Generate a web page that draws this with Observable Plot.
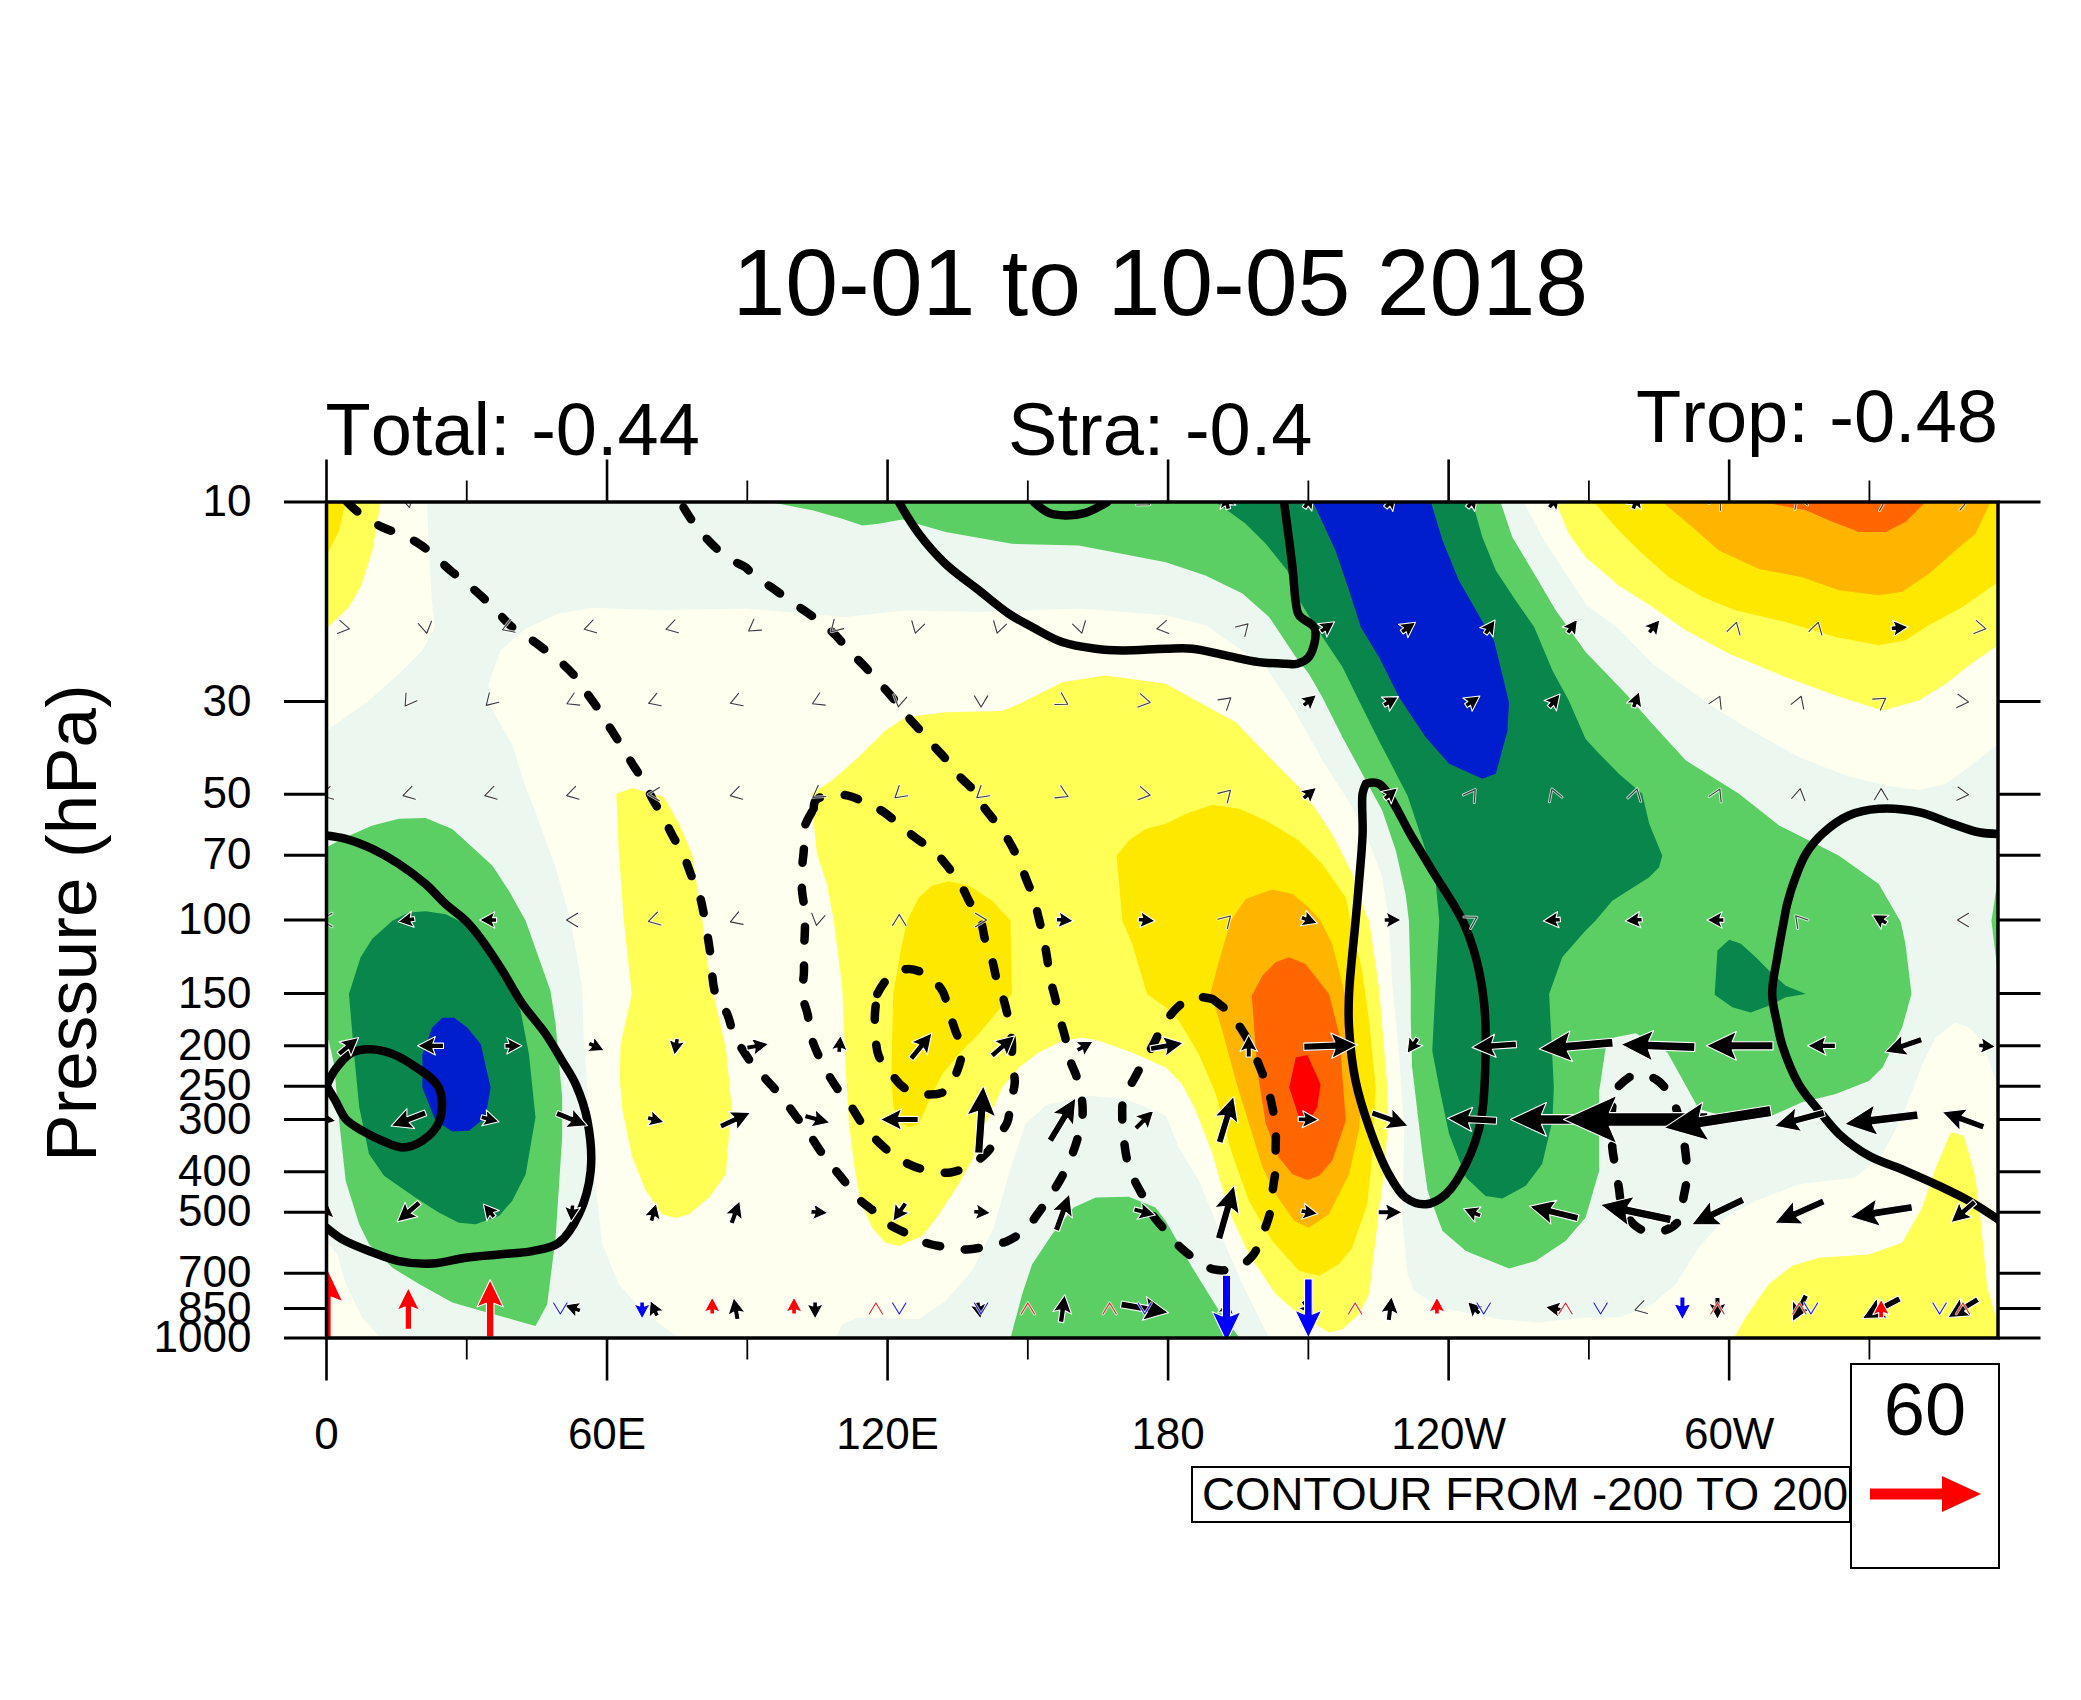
<!DOCTYPE html>
<html><head><meta charset="utf-8">
<script src="https://cdn.jsdelivr.net/npm/d3@7"></script>
<script src="https://cdn.jsdelivr.net/npm/@observablehq/plot@0.6"></script>
<style>
html,body{margin:0;padding:0;background:#fff}
#wrap{position:relative;width:2081px;height:1700px;font-family:"Liberation Sans",Arial,sans-serif;color:#000;font-kerning:none}
.box{position:absolute;box-sizing:border-box;border:2px solid #000;white-space:nowrap}
</style></head><body><div id="wrap"></div>
<script>
// Labels
const titleText = "10-01 to 10-05 2018";
const leftLabel = "Total: -0.44", midLabel = "Stra: -0.4", rightLabel = "Trop: -0.48";
const yLabel = "Pressure (hPa)";
const pressureTicks = [10,30,50,70,100,150,200,250,300,400,500,700,850,1000];
const lonMajor = [0,60,120,180,240,300];
const lonMinor = [30,90,150,210,270,330];
const lonNames = {0:"0",60:"60E",120:"120E",180:"180",240:"120W",300:"60W"};
const lonEnd = 357.5;

// Contour bands: [longitude, log10 hPa]
const paleGreenMain=[[21.5,1],[21.9,1.116],[22.5,1.235],[23.2,1.299],[20.5,1.355],[15.5,1.411],[9.1,1.475],[0,1.547],[0,2.77],[2.3,2.8],[4.1,2.871],[7.6,2.951],[11.6,3],[75.4,3],[67.5,2.935],[62.5,2.871],[59,2.776],[57.6,2.64],[56.1,2.448],[55,2.281],[54.7,2.161],[52.2,2.002],[49,1.874],[45.4,1.762],[42.6,1.682],[39.7,1.579],[34.7,1.483],[34.7,1.435],[37.2,1.355],[42.6,1.303],[49.7,1.267],[56.8,1.253],[71.1,1.259],[89.6,1.255],[101.7,1.267],[111,1.275],[123.8,1.259],[139.5,1.263],[160.9,1.255],[179.5,1.271],[188,1.295],[193.7,1.339],[200.9,1.395],[206.6,1.491],[213,1.618],[219.4,1.73],[222.3,1.794],[225.8,1.898],[227.2,2.002],[228,2.161],[229.4,2.321],[230.5,2.512],[230.1,2.72],[231.2,2.847],[232.6,2.887],[238,2.927],[250.8,2.955],[259.3,2.963],[269.3,2.951],[276.4,2.951],[283.6,2.919],[288.6,2.871],[293.5,2.784],[299.2,2.712],[305.7,2.672],[314.9,2.632],[327,2.616],[332.8,2.56],[337,2.472],[341.3,2.345],[344.2,2.281],[348.4,2.245],[351.3,2.257],[354.1,2.289],[357.5,2.401],[357.5,1.579],[351.3,1.634],[346.3,1.674],[340.6,1.689],[333.5,1.678],[324.9,1.654],[314.9,1.61],[304.9,1.547],[297.8,1.499],[290.7,1.443],[283.6,1.387],[276.4,1.303],[269.5,1.247],[260,1.084],[256.1,1]];
const paleGreenDome=[[108.9,3],[110.3,2.967],[113.8,2.951],[126.7,2.955],[132.4,2.911],[138.1,2.839],[142.7,2.736],[145.9,2.608],[149.5,2.488],[153.8,2.444],[162.3,2.42],[170.9,2.428],[179.5,2.468],[182.3,2.544],[186.6,2.624],[191.6,2.76],[195.9,2.871],[201.6,3]];
const greenLeft=[[0,1.826],[4.1,1.802],[9.8,1.774],[15.5,1.758],[21.2,1.756],[26.9,1.782],[31.2,1.826],[35.5,1.87],[39,1.93],[42.6,2.002],[47.9,2.169],[49,2.249],[50.4,2.424],[50.4,2.52],[49,2.76],[47.2,2.919],[44.7,2.971],[31.9,2.931],[26.9,2.915],[19.8,2.871],[14.1,2.832],[9.1,2.776],[7,2.728],[4.1,2.624],[2.7,2.48],[1.6,2.345],[0.5,2.289],[0,2.281]];
const greenDome=[[146.3,3],[148.8,2.895],[150.9,2.824],[155.2,2.752],[159.8,2.688],[164.5,2.664],[171.6,2.662],[177.3,2.688],[179.5,2.72],[185.2,2.832],[190.9,2.935],[195.3,3]];
const greenMain=[[94.9,1],[103.9,1.02],[110.3,1.04],[114.6,1.056],[118.1,1.052],[123.1,1.042],[132.4,1.072],[146.6,1.1],[160.9,1.104],[179.5,1.144],[188,1.176],[195.9,1.219],[201.6,1.275],[207.3,1.371],[210.1,1.411],[213,1.467],[217.3,1.563],[222.3,1.666],[225.8,1.738],[228.7,1.834],[230.8,1.938],[231.5,2.002],[231.9,2.161],[231.9,2.241],[232.2,2.353],[234.4,2.56],[235.5,2.648],[238.7,2.744],[243.7,2.792],[252.9,2.834],[258.6,2.816],[265,2.768],[269.3,2.712],[272.2,2.6],[272.2,2.409],[273.6,2.305],[275.4,2.281],[280,2.271],[286.8,2.317],[293.5,2.452],[297.8,2.466],[309.2,2.468],[315.6,2.436],[322.8,2.416],[329.9,2.385],[332.8,2.353],[337,2.257],[339,2.177],[337.7,2.057],[336.7,2.005],[332,1.914],[323.5,1.846],[317.1,1.81],[310.7,1.774],[302.1,1.698],[290.7,1.618],[283.6,1.531],[277.9,1.459],[269.3,1.359],[262.9,1.259],[257.9,1.164],[253.6,1.084],[251.1,1]];
const greenSliver=[[357.5,1.898],[356.1,2.002],[356.6,2.049],[357.5,2.129]];
const darkLeft=[[4.8,2.177],[7.3,2.089],[9.8,2.045],[14.1,2.002],[17.6,1.982],[21.2,1.979],[25.5,1.986],[29.8,2.01],[34,2.057],[38.3,2.137],[41.5,2.217],[43.3,2.321],[44.7,2.472],[42.6,2.608],[39.7,2.672],[36.9,2.708],[31.9,2.728],[28.3,2.724],[24,2.7],[19,2.664],[12.3,2.612],[9.1,2.56],[7,2.448],[5.9,2.321]];
const darkMain=[[190.2,1],[196.6,1.052],[200.9,1.1],[205.5,1.164],[207.6,1.227],[211.6,1.299],[217.3,1.395],[220.8,1.475],[225.1,1.571],[231.2,1.702],[234.4,1.81],[237.2,1.906],[238,2.002],[237.2,2.161],[236.5,2.313],[238,2.401],[240.1,2.512],[243.7,2.616],[247.9,2.66],[251.5,2.666],[256.5,2.636],[260,2.584],[262.2,2.48],[262.5,2.401],[261.5,2.177],[264.3,2.089],[269.3,2.025],[271.4,2.002],[275,1.954],[282.9,1.898],[285,1.874],[285.7,1.846],[282.9,1.77],[281.4,1.698],[276.4,1.65],[272.2,1.602],[269.3,1.567],[265.7,1.475],[262.2,1.403],[258.3,1.299],[254.3,1.235],[250.1,1.164],[247.2,1.084],[245.1,1]];
const darkSmall=[[297.5,2.073],[300,2.047],[302.5,2.057],[305.7,2.089],[308.5,2.121],[312.1,2.157],[316.4,2.177],[312.1,2.185],[308.5,2.205],[304.6,2.221],[300.7,2.209],[296.9,2.179]];
const blueLeft=[[20.5,2.321],[22.6,2.257],[24.8,2.234],[27.3,2.234],[30.1,2.257],[33,2.297],[35.1,2.401],[34,2.472],[30.5,2.504],[26.9,2.506],[23.3,2.48],[20.5,2.401]];
const blueTop=[[211,1],[215.8,1.116],[218.7,1.211],[221.2,1.299],[225.1,1.371],[229.4,1.467],[235.1,1.563],[240.1,1.626],[247.2,1.662],[250.1,1.65],[252.6,1.547],[252.9,1.479],[249.7,1.331],[247.9,1.299],[242.2,1.188],[238.7,1.092],[236.2,1]];
const yellowCorner=[[0,1.303],[4.8,1.251],[7.3,1.203],[9.8,1.116],[11.6,1],[0,1]];
const yellowStrip=[[62,1.698],[65.4,1.684],[72.2,1.706],[75.4,1.77],[78.2,1.842],[79.3,1.922],[80.4,2.002],[81.4,2.097],[82.9,2.185],[85.4,2.305],[86.6,2.44],[85.4,2.608],[81.8,2.664],[77.5,2.704],[74.7,2.713],[71.8,2.704],[68.3,2.648],[65.4,2.568],[63.3,2.456],[62.7,2.377],[62.9,2.297],[65.3,2.177],[63.6,2.002],[62.5,1.834]];
const yellowCentre=[[103.6,1.698],[108.1,1.666],[113.8,1.61],[119.5,1.547],[123.8,1.515],[132.4,1.503],[144.5,1.5],[148.1,1.483],[157.4,1.431],[166.6,1.415],[179.5,1.435],[187.3,1.483],[194.5,1.527],[202.3,1.618],[209.4,1.698],[215.1,1.794],[219.4,1.89],[222.3,1.986],[223,2.002],[225.1,2.161],[226.9,2.401],[226.9,2.512],[225.8,2.64],[224.4,2.76],[223,2.895],[220.8,2.943],[217.3,2.979],[214.4,2.987],[208,2.943],[203,2.895],[197.3,2.8],[193,2.696],[189.5,2.56],[185.9,2.456],[183,2.393],[179.5,2.353],[172.3,2.317],[165.2,2.289],[161.6,2.281],[157.4,2.289],[152.3,2.317],[148.1,2.353],[144.5,2.401],[142.7,2.448],[140.9,2.488],[138.4,2.568],[135.2,2.632],[131,2.704],[127.4,2.756],[122.4,2.78],[119.5,2.772],[116.7,2.736],[114.2,2.672],[112.8,2.584],[111.7,2.48],[111,2.345],[110.3,2.161],[108.5,2.002],[107,1.914],[104.9,1.842]];
const yellowLower=[[301,3],[303.5,2.951],[308.5,2.871],[313.5,2.827],[319.2,2.808],[329.9,2.8],[337,2.772],[341.3,2.688],[344.2,2.592],[347.4,2.508],[350.2,2.516],[352.7,2.616],[353.8,2.72],[355.2,2.879],[357.5,2.967],[357.5,3]];
const yellowTop=[[262.9,1],[265.7,1.076],[269.3,1.132],[276.4,1.2],[283.6,1.251],[290.7,1.307],[300,1.363],[312.1,1.419],[322.8,1.463],[332.8,1.499],[340.6,1.475],[346.3,1.435],[352.7,1.379],[357.5,1.343],[357.5,1]];
const goldCorner=[[0,1.128],[2.7,1.068],[4.1,1],[0,1]];
const goldWest=[[124.2,2.002],[126.7,1.946],[129.5,1.918],[133.1,1.907],[137.4,1.918],[142.4,1.954],[146.3,2.002],[146.6,2.177],[139.5,2.273],[135.2,2.321],[131.7,2.369],[129.2,2.424],[126.7,2.488],[124.5,2.496],[122.4,2.48],[121.3,2.448],[120.8,2.385],[121.2,2.177],[122.8,2.073]];
const goldCentre=[[169,1.846],[171.6,1.81],[175.2,1.782],[179.5,1.77],[183.8,1.746],[189.5,1.724],[195.2,1.734],[200.9,1.762],[208,1.81],[213,1.866],[218,1.946],[219,2.002],[221.5,2.121],[223,2.241],[224.4,2.401],[223.7,2.56],[222.6,2.68],[219.4,2.784],[216.6,2.823],[212.3,2.851],[208,2.839],[202.3,2.768],[197.3,2.672],[193.7,2.56],[190.2,2.416],[186.6,2.321],[182.3,2.241],[179.5,2.209],[175.5,2.177],[172.3,2.057],[170.2,2.002]];
const goldTop=[[271.1,1],[276.4,1.068],[280.7,1.116],[287.1,1.18],[294.3,1.227],[301.4,1.259],[312.1,1.287],[322.8,1.323],[332,1.343],[337.7,1.331],[342.7,1.295],[349.9,1.251],[357.5,1.192],[357.5,1]];
const orangeCentre=[[193.4,2.002],[196.6,1.95],[202.3,1.927],[206.6,1.938],[210.1,1.97],[212.6,2.002],[215.1,2.057],[217.3,2.153],[219.4,2.273],[221.2,2.448],[220.8,2.504],[218.7,2.608],[214.4,2.704],[210.1,2.736],[207,2.72],[203,2.656],[200.2,2.592],[198,2.512],[194.5,2.385],[191.6,2.265],[189.1,2.173],[190.9,2.097]];
const orangeTop=[[285.7,1],[292.1,1.06],[297.8,1.116],[306.4,1.16],[315.6,1.18],[323.5,1.211],[332,1.223],[337,1.215],[342.7,1.172],[348.4,1.116],[352.7,1.076],[355.9,1]];
const deepCentre=[[197.9,2.181],[200.2,2.133],[203,2.101],[205.9,2.089],[209.4,2.105],[214.4,2.177],[216.6,2.273],[218,2.48],[215.1,2.576],[212.3,2.612],[209.8,2.622],[206.6,2.608],[203.7,2.568],[200.9,2.488],[199.1,2.361],[198.4,2.257]];
const deepTop=[[307.1,1],[316.4,1.02],[321.4,1.044],[327.8,1.072],[333.5,1.072],[337.7,1.048],[342,1]];
const redCore=[[207.3,2.329],[209.8,2.323],[212.6,2.393],[211.9,2.448],[210.1,2.48],[208,2.472],[205.9,2.401]];

// Contour lines: [longitude, log10 hPa]
const solidA=[[0,1.798],[4.1,1.806],[9.8,1.83],[15.5,1.866],[21.2,1.914],[25.5,1.962],[29.8,2.002],[33.3,2.049],[37.6,2.121],[41.9,2.201],[46.9,2.273],[50.4,2.337],[53.3,2.393],[55.8,2.48],[56.5,2.6],[54,2.704],[49.7,2.772],[44,2.792],[36.9,2.8],[29.7,2.808],[22.6,2.822],[15.5,2.816],[9.1,2.792],[3.4,2.764],[0,2.736]];
const solidB=[[0,2.397],[1.9,2.357],[5.5,2.317],[9.1,2.309],[13.3,2.317],[17.6,2.341],[24,2.401],[24.2,2.48],[20.5,2.528],[16.2,2.544],[11.9,2.528],[7.6,2.504],[4.1,2.476],[1.9,2.432],[0,2.397]];
const solidC=[[122.4,1],[126.7,1.076],[132.4,1.148],[139.5,1.211],[145.9,1.267],[150.9,1.299],[157.3,1.335],[164.5,1.351],[170.2,1.355],[179.5,1.351],[185.2,1.351],[192.3,1.367],[199.4,1.383],[205.2,1.387],[207.6,1.387],[210.1,1.371],[211.4,1.303],[208,1.271],[207.3,1.239],[206.6,1.156],[204.8,1]];
const solidD=[[151.3,1],[154.5,1.026],[158,1.032],[162.3,1.026],[167,1]];
const solidE=[[222.3,1.674],[221.6,1.698],[221.6,1.794],[220.8,1.914],[220.1,2.002],[218.7,2.177],[218.7,2.257],[220.1,2.385],[223,2.496],[227.2,2.608],[230.8,2.664],[235.1,2.68],[239.4,2.656],[243.7,2.584],[246.9,2.48],[247.9,2.321],[247.6,2.201],[245.8,2.089],[243,2.002],[236.5,1.882],[232.2,1.802],[225.1,1.674],[222.3,1.674]];
const solidF=[[357.5,1.794],[353.4,1.79],[347.7,1.77],[340.6,1.742],[332,1.734],[325.6,1.75],[319.9,1.794],[316.4,1.842],[314.2,1.898],[312.4,1.962],[311.7,2.002],[310.3,2.089],[309.2,2.177],[310.3,2.249],[311.4,2.301],[314.9,2.393],[319.2,2.456],[323.5,2.512],[329.9,2.564],[337.7,2.6],[344.9,2.636],[351.3,2.672],[357.5,2.716]];
const dashedA=[[4.4,1],[7.6,1.032],[11.9,1.06],[15.5,1.076],[19.8,1.1],[23,1.128],[26.5,1.164],[29.7,1.192],[33.3,1.227],[36.2,1.259],[39.7,1.299],[43,1.323],[46.9,1.355],[50.1,1.383],[53.3,1.419],[55.8,1.459],[58.6,1.503],[60.8,1.543],[63.3,1.587],[65.4,1.626],[67.9,1.67],[69.7,1.71],[72.2,1.758],[74,1.798],[76.4,1.846],[77.9,1.89],[79.7,1.938],[80.7,1.985],[81.4,2.03],[82.1,2.081],[83.2,2.177],[85.7,2.225],[87.1,2.273],[89.6,2.321],[91.4,2.349],[95.3,2.397],[97.4,2.424],[100.3,2.468],[102.8,2.504],[105.6,2.552],[107.8,2.584],[111,2.628],[113.5,2.664],[117,2.696],[120.3,2.728],[124.5,2.752],[128.1,2.772],[133.1,2.784],[137,2.788],[141.6,2.78],[145.6,2.768],[149.5,2.74],[152.3,2.7],[154.8,2.66],[157,2.62],[159.1,2.572],[160.5,2.528],[161.6,2.48],[161.6,2.432],[160.5,2.377],[159.1,2.337],[158,2.281],[157,2.241],[155.9,2.189],[154.8,2.141],[154.1,2.089],[153.4,2.045],[152.3,1.994],[151.3,1.95],[149.5,1.898],[148.1,1.858],[145.9,1.81],[143.4,1.77],[140.6,1.73],[138.4,1.69],[135.2,1.654],[132.7,1.618],[129.5,1.579],[126.7,1.543],[123.5,1.503],[121,1.467],[117.8,1.427],[114.9,1.391],[111.7,1.355],[108.9,1.319],[105.6,1.287],[102.1,1.259],[98.5,1.231],[95,1.203],[91.4,1.176],[89.6,1.156],[87.5,1.144],[83.9,1.116],[80.7,1.08],[77.9,1.04],[75.7,1]];
const dashedB=[[104.2,1.734],[104.6,1.714],[107.1,1.702],[111.3,1.702],[115.6,1.721],[119.2,1.742],[123.1,1.778],[126.3,1.806],[130.2,1.838],[132.7,1.87],[135.6,1.914],[137.4,1.954],[139.9,2.002],[140.9,2.049],[142.4,2.097],[143.4,2.145],[144.9,2.193],[145.9,2.241],[146.6,2.293],[146.6,2.337],[147.2,2.389],[146.3,2.436],[145.6,2.484],[143.4,2.52],[141.3,2.556],[137.4,2.588],[133.5,2.604],[128.8,2.6],[124.5,2.584],[121,2.56],[117.4,2.524],[114.6,2.488],[112.1,2.444],[109.6,2.409],[107.1,2.365],[105.1,2.321],[103.5,2.273],[102.9,2.225],[101.7,2.177],[102.1,2.129],[102.1,2.077],[102.3,2.03],[102.3,1.978],[101.7,1.93],[101.7,1.878],[102.1,1.83],[102.1,1.782],[104.2,1.734]];
const dashedC=[[117.8,2.177],[120.3,2.137],[124.5,2.117],[128.5,2.133],[131.7,2.169],[133.1,2.217],[134.5,2.265],[135.9,2.309],[134.9,2.361],[132.4,2.409],[127.7,2.417],[123.5,2.401],[120.6,2.365],[118.1,2.325],[117.4,2.273],[117.3,2.225],[117.8,2.177]];
const dashedD=[[189.5,2.189],[193,2.221],[195.9,2.265],[197.7,2.301],[199.8,2.357],[201.2,2.397],[202.3,2.448],[203,2.496],[203,2.548],[203,2.596],[202.4,2.644],[201.9,2.696],[200.5,2.744],[198,2.804],[194.1,2.834],[189.8,2.836],[186.2,2.814],[182.7,2.784],[179.5,2.744],[176.6,2.704],[174.8,2.664],[172.7,2.62],[171.2,2.572],[170.5,2.52],[170.2,2.476],[170.5,2.424],[172.7,2.381],[174.8,2.337],[176.9,2.297],[178.7,2.257],[182,2.209],[185.5,2.185],[189.5,2.189]];
const dashedE=[[276.4,2.397],[280,2.369],[284.3,2.381],[287.5,2.421],[289.6,2.488],[290.7,2.56],[291,2.612],[290.3,2.66],[288.9,2.724],[283.9,2.748],[280,2.732],[277.1,2.684],[276.4,2.64],[275.7,2.592],[275,2.544],[275,2.448],[275.4,2.432],[276.4,2.397]];

// Wind vectors: [longitude, hPa, speed, bearing]
const solidBlack=[
[192.5,10,8,345],[210,10,8,35],[227.5,10,8,40],[245,10,8,40],[262.5,10,8,40],[280,10,8,20],
[213.75,20,7,55],[231.25,20,8,55],[248.75,20,8,35],[266.25,20,7,35],[283.75,20,7,40],[336.25,20,8,85],
[210,30,7,50],[227.5,30,8,60],[245,30,8,55],[262.5,30,8,40],[280,30,7,20],
[210,50,7,50],[227.5,50,8,50],
[17.5,100,7,260],[35,100,7,270],[157.5,100,7,95],[175,100,7,95],[210,100,8,110],[227.5,100,6.5,90],[262.5,100,7,265],[280,100,7,265],[297.5,100,7,270],[332.5,100,7,300],
[4.75,200,14,50],[22.25,200,14,270],[39.75,200,8,90],[57.25,200,6.5,115],[74.75,200,8,190],[92.25,200,12,80],[109.75,200,7,5],[127.25,200,18,39],[144.75,200,16.5,49],[162.25,200,10,60],[179.75,200,18,80],[197.25,200,12,0],[214.75,200,29,88],[232.25,200,10,215],[249.75,200,24,266],[267.25,200,40,265],[284.75,200,40,272],[302.25,200,36,270],[319.75,200,15,270],[337.25,200,21,251],[354.75,200,7,95],
[0,300,8,100],[17.5,300,20,249],[35,300,10,105],[52.5,300,18,112],[70,300,7,105],[87.5,300,18,65],[105,300,14,105],[122.5,300,20.5,270],[140,300,36.5,4],[157.5,300,27,31],[175,300,14,45],[192.5,300,26,17],[210,300,11,92],[227.5,300,21,110],[245,300,26.5,273],[262.5,300,47,270],[280,300,78,270],[297.5,300,58.5,261],[315,300,28,255],[332.5,300,40,263],[350,300,24,290],
[0,500,8,5],[17.5,500,16,229],[35,500,7,320],[52.5,500,8,185],[70,500,10,15],[87.5,500,13,20],[105,500,7,95],[122.5,500,12,215],[140,500,8,95],[157.5,500,21,20],[175,500,12,105],[192.5,500,30,16],[210,500,8,100],[227.5,500,13,90],[245,500,10,292],[262.5,500,27,284],[280,500,39,282],[297.5,500,31,244],[315,500,29,246],[332.5,500,34,261],[350,500,17,229],
[53,850,7,290],[70,850,9,335],[87.5,850,12,350],[104.5,850,7,180],[139.5,850,7,170],[157.5,850,15,8],[175,850,26,100],[192.5,850,8,10],[210,850,10,145],[227.5,850,13,7],[245.5,850,8,315],[262.5,850,9,280],[297.5,850,12,180],[315,850,16,207],[332.5,850,23,242],[350,850,19,239]];
const faintBlack=[
[17.5,10,6,170],[175,10,6,120],[297.5,10,6,30],[315,10,6,340],[332.5,10,6,60],[350,10,6,70],
[3.75,20,6,100],[21.25,20,6,170],[38.75,20,6,250],[56.25,20,6,255],[73.75,20,6,255],[91.25,20,6,235],[108.75,20,6,225],[126.25,20,6,195],[143.75,20,6,195],[161.25,20,6,165],[178.75,20,6,260],[196.25,20,6,45],[301.25,20,6,15],[318.75,20,6,15],[353.75,20,6,100],
[17.5,30,6,215],[35,30,6,225],[52.5,30,6,245],[70,30,6,250],[87.5,30,6,250],[105,30,6,245],[122.5,30,6,190],[140,30,6,180],[157.5,30,6,120],[175,30,6,100],[192.5,30,6,50],[297.5,30,6,25],[315,30,6,20],[332.5,30,6,55],[350,30,6,95],
[0,50,6,255],[17.5,50,6,255],[35,50,6,255],[52.5,50,6,255],[70,50,6,270],[87.5,50,6,255],[105,50,6,235],[122.5,50,6,230],[140,50,6,230],[157.5,50,6,115],[175,50,6,100],[192.5,50,6,45],[245,50,6,35],[262.5,50,6,340],[280,50,6,15],[297.5,50,6,25],[315,50,6,10],[332.5,50,6,0],[350,50,6,95],
[0,100,6,270],[52.5,100,6,270],[70,100,6,255],[87.5,100,6,250],[105,100,6,190],[122.5,100,6,0],[140,100,6,90],[192.5,100,6,45],[245,100,6,60],[315,100,6,320],[350,100,6,270],
[281,850,6,255]];
const solidRed=[[0,850,45,0],[17.5,850,22.5,0],[35,850,31,0],[82.5,850,6,0],[100,850,6,0],[237.5,850,6,0],[332.5,850,10,0]];
const faintRed=[[117.5,850,6,0],[150,850,6,0],[167.5,850,6,0],[220,850,6,0],[265,850,6,0],[297.5,850,6,0],[315,850,6,0],[350,850,6,0]];
const solidBlue=[[67.5,850,7,180],[192.5,850,36,180],[210,850,32,180],[290,850,12.5,180]];
const faintBlue=[[50,850,6,180],[122.5,850,6,180],[140,850,6,180],[175,850,6,180],[247.5,850,6,180],[272.5,850,6,180],[317.5,850,6,180],[345,850,6,180]];
const referenceSpeed=[60];

// Colours
const cPaleYellow="#feffee",cPaleGreen="#ecf8ef",cGreen="#5bcf64",cDark="#08864c",cBlue="#001ecd",cYellow="#ffff55",cGold="#ffe800",cOrange="#ffb400",cDeep="#ff6600",cRed="#ff0000";

const band=(pts,color)=>Plot.line(pts,{x:d=>d[0],y:d=>10**d[1],fill:color,stroke:"none",clip:true});
const contour=(pts,dash)=>Plot.line(pts,{x:d=>d[0],y:d=>10**d[1],stroke:"#000",strokeWidth:8.5,strokeLinecap:"round",strokeLinejoin:"round",curve:"catmull-rom",clip:true,...(dash?{strokeDasharray:"14,25"}:{})});

const arrowShape={draw(c,l0){
  const l=Math.max(l0,17),h=.3*l+10,w=.25*l+12,s=.07*l+3.5;
  if(l<=h*1.12){c.moveTo(0,-l);c.lineTo(w/2,0);c.lineTo(0,-l*.38);c.lineTo(-w/2,0);c.closePath();return;}
  c.moveTo(0,-l);c.lineTo(w/2,-l+h);c.lineTo(s/2,-l+h*.86);c.lineTo(s/2,0);c.lineTo(-s/2,0);c.lineTo(-s/2,-l+h*.86);c.lineTo(-w/2,-l+h);c.closePath();
}};
const refShape={draw(c,l){
  const h=39,w=36,s=11;
  c.moveTo(0,-l);c.lineTo(w/2,-l+h);c.lineTo(s/2,-l+h);c.lineTo(s/2,0);c.lineTo(-s/2,0);c.lineTo(-s/2,-l+h);c.lineTo(-w/2,-l+h);c.closePath();
}};
const veeShape={draw(c,l){c.moveTo(-.6*l,0);c.lineTo(0,-l);c.lineTo(.6*l,0);}};
const vec=(rows,shape,opts)=>Plot.vector(rows,{x:d=>d[0],y:d=>d[1],length:d=>d[2],rotate:d=>d[3],shape,clip:true,...opts});
const solid=(rows,fill)=>vec(rows,arrowShape,{fill,stroke:"#fff",strokeWidth:1.1});
const faint=(rows,stroke)=>[vec(rows,veeShape,{stroke:"#fff",strokeWidth:3,strokeOpacity:.7}),vec(rows,veeShape,{stroke,strokeWidth:1.1})];

const label=(t,o)=>Plot.text([t],{text:d=>d,lineAnchor:"bottom",fontFamily:"Liberation Sans",fill:"#000",...o});

const chart=Plot.plot({
  width:2081,height:1700,
  marginLeft:326,marginRight:83.5,marginTop:501.5,marginBottom:362.5,
  style:{fontFamily:"Liberation Sans",background:"#fff",maxWidth:"none",display:"block",fontKerning:"none"},
  x:{domain:[0,lonEnd],axis:null},
  y:{type:"log",domain:[10,1000],reverse:true,axis:null},
  length:{type:"linear",domain:[0,60],range:[0,111]},
  marks:[
    Plot.frame({fill:cPaleYellow,stroke:"none"}),
    band(paleGreenMain,cPaleGreen),band(paleGreenDome,cPaleGreen),
    band(greenLeft,cGreen),band(greenDome,cGreen),band(greenMain,cGreen),band(greenSliver,cGreen),
    band(darkLeft,cDark),band(darkMain,cDark),band(darkSmall,cDark),
    band(blueLeft,cBlue),band(blueTop,cBlue),
    band(yellowCorner,cYellow),band(yellowStrip,cYellow),band(yellowCentre,cYellow),band(yellowLower,cYellow),band(yellowTop,cYellow),
    band(goldCorner,cGold),band(goldWest,cGold),band(goldCentre,cGold),band(goldTop,cGold),
    band(orangeCentre,cOrange),band(orangeTop,cOrange),
    band(deepCentre,cDeep),band(deepTop,cDeep),
    band(redCore,cRed),
    contour(solidA),contour(solidB),contour(solidC),contour(solidD),contour(solidE),contour(solidF),
    contour(dashedA,true),contour(dashedB,true),contour(dashedC,true),contour(dashedD,true),contour(dashedE,true),
    faint(faintBlack,"#3a3a3a"),
    solid(solidBlack,"#000"),
    faint(faintRed,"#ee2222"),faint(faintBlue,"#1a1aff"),
    solid(solidRed,"#ff0000"),solid(solidBlue,"#0000ff"),
    Plot.frame({stroke:"#000",strokeWidth:3.5}),
    Plot.axisY({ticks:pressureTicks,anchor:"left",tickSize:42,fill:"none",strokeWidth:3,label:null}),
    Plot.text(pressureTicks,{y:d=>d,text:d=>String(d),frameAnchor:"left",textAnchor:"end",lineAnchor:"middle",dx:-75,fontSize:44,fill:"#000"}),
    Plot.axisY({ticks:pressureTicks,anchor:"right",tickSize:42,fill:"none",strokeWidth:3,label:null}),
    Plot.axisX({ticks:lonMajor,anchor:"bottom",tickSize:43,tickPadding:37,fontSize:44,strokeWidth:2.6,label:null,tickFormat:d=>lonNames[d]}),
    Plot.axisX({ticks:lonMinor,anchor:"bottom",tickSize:22,fill:"none",strokeWidth:1.8,label:null}),
    Plot.axisX({ticks:lonMajor,anchor:"top",tickSize:43,fill:"none",strokeWidth:2.6,label:null}),
    Plot.axisX({ticks:lonMinor,anchor:"top",tickSize:22,fill:"none",strokeWidth:1.8,label:null}),
    label(titleText,{frameAnchor:"top",textAnchor:"middle",dx:-2,dy:-187.5,fontSize:95}),
    label(leftLabel,{frameAnchor:"top-left",textAnchor:"start",dx:-1,dy:-47.5,fontSize:74}),
    label(midLabel,{frameAnchor:"top",textAnchor:"middle",dx:-2,dy:-47.5,fontSize:74}),
    label(rightLabel,{frameAnchor:"top-right",textAnchor:"end",dy:-60.5,fontSize:74}),
    label(yLabel,{frameAnchor:"left",textAnchor:"middle",rotate:-90,dx:-231,dy:3,fontSize:71}),
    Plot.vector(referenceSpeed,{length:d=>d,rotate:90,frameAnchor:"bottom-right",dx:-72.5,dy:156,shape:refShape,fill:"#ff0000",stroke:"none"})
  ]
});
const wrap=document.getElementById("wrap");
wrap.appendChild(chart);
const contourBox=document.createElement("div");
contourBox.className="box";
contourBox.textContent="CONTOUR FROM -200 TO 200";
contourBox.style.cssText="left:1191px;top:1466px;width:660px;height:57px;font-size:45.6px;line-height:53px;padding-left:9px;overflow:visible";
wrap.appendChild(contourBox);
const refBox=document.createElement("div");
refBox.className="box";
refBox.textContent="60";
refBox.style.cssText="left:1850px;top:1363px;width:150px;height:206px;font-size:74px;line-height:84px;text-align:center;padding-top:3px";
wrap.appendChild(refBox);
</script></body></html>
